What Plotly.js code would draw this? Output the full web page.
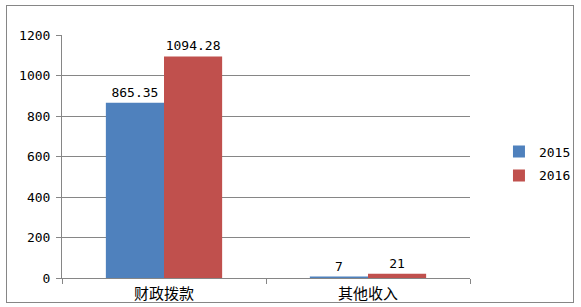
<!DOCTYPE html>
<html><head><meta charset="utf-8">
<script src="https://cdn.plot.ly/plotly-3.0.1.min.js"></script>
<style>body{margin:0;padding:0;background:#fff}#wrap{position:relative;width:581px;height:307px}#chart{width:581px;height:307px}#frame{position:absolute;left:6px;top:5px;width:566px;height:296px;border:1px solid #868686;pointer-events:none}</style>
</head><body>
<div id="wrap"><div id="chart"></div><div id="frame"></div></div>
<script>
const categories = ["财政拨款", "其他收入"];
const seriesNames = ["2015", "2016"];
const values2015 = [865.35, 7];
const values2016 = [1094.28, 21];
const labels2015 = ["865.35", "7"];
const labels2016 = ["1094.28", "21"];
const yTicks = [0, 200, 400, 600, 800, 1000, 1200];

const font = {family: "'DejaVu Sans Mono', 'Noto Sans CJK SC', monospace", size: 13, color: "#000"};
const cjkFont = {family: "'Noto Sans CJK SC', sans-serif", size: 15, color: "#000"};
const data = [
  {type: "bar", name: seriesNames[0], legendgroup: "a", x: categories, y: values2015, text: labels2015,
   textposition: "outside", texttemplate: "%{text}", textfont: font, cliponaxis: false,
   marker: {color: "#4F81BD"}},
  {type: "bar", name: seriesNames[1], legendgroup: "b", x: categories, y: values2016, text: labels2016,
   textposition: "outside", texttemplate: "%{text}", textfont: font, cliponaxis: false,
   marker: {color: "#C0504D"}}
];
const layout = {
  width: 581, height: 307,
  margin: {l: 62, r: 111, t: 35, b: 29, autoexpand: false},
  paper_bgcolor: "#fff", plot_bgcolor: "#fff",
  font: font,
  barmode: "group", bargap: 0.43, bargroupgap: 0,
  showlegend: true,
  legend: {x: 1.071, y: 0.471, xanchor: "left", yanchor: "middle", font: font, itemwidth: 30, tracegroupgap: 4},
  xaxis: {showline: true, linecolor: "#868686", linewidth: 1, ticks: "outside", tickson: "boundaries",
          tickcolor: "#868686", ticklen: 5, showgrid: false, tickfont: cjkFont, ticklabelstandoff: 2, fixedrange: true},
  yaxis: {range: [0, 1200], tickvals: yTicks, showline: true, linecolor: "#868686", linewidth: 1,
          ticks: "outside", tickcolor: "#868686", ticklen: 5, gridcolor: "#868686", gridwidth: 1,
          ticklabelstandoff: 3, zeroline: false, tickfont: font, fixedrange: true}
};
Plotly.newPlot("chart", data, layout, {displayModeBar: false, staticPlot: true});
</script>
</body></html>
